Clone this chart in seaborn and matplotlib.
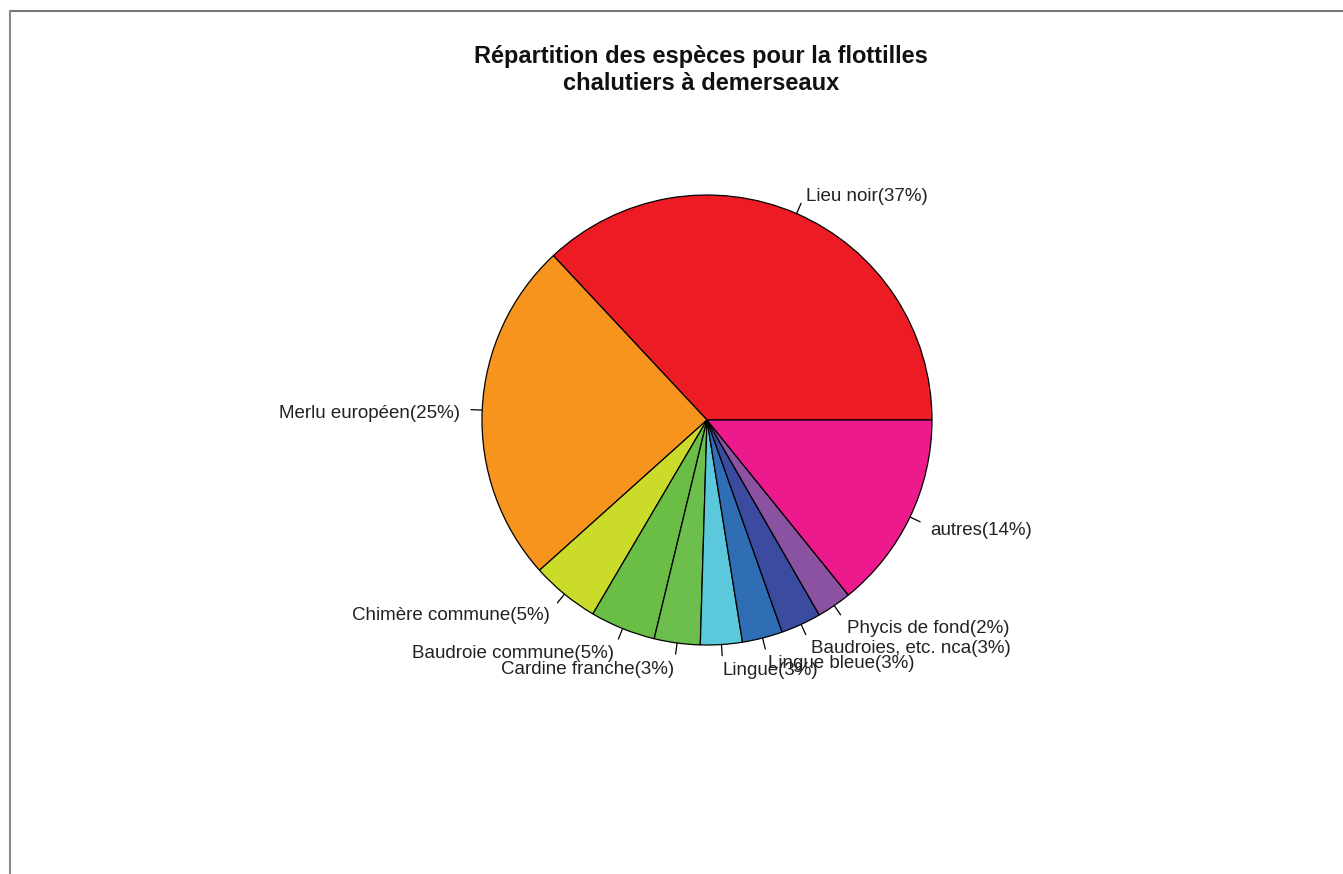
import matplotlib
matplotlib.use("Agg")
import numpy as np
import matplotlib.pyplot as plt
import matplotlib.transforms as mtransforms
import seaborn as sns

sns.set_style("white")
plt.rcParams["font.family"] = ["Liberation Sans", "DejaVu Sans"]

# species share of landings
especes = ["Lieu noir", "Merlu européen", "Chimère commune", "Baudroie commune",
           "Cardine franche", "Lingue", "Lingue bleue", "Baudroies, etc. nca",
           "Phycis de fond", "autres"]
parts = [37.0, 24.7, 4.9, 4.7, 3.3, 3.0, 2.9, 2.9, 2.5, 14.2]
pct_affiche = [37, 25, 5, 5, 3, 3, 3, 3, 2, 14]
couleurs = ["#ED1C24", "#F7941D", "#CBDB2A", "#6ABD45", "#6DBF4D",
            "#5CC8DC", "#2F6DB5", "#3B4BA0", "#8C52A2", "#EC1A8C"]

etiquettes = [f"{n}({p}%)" for n, p in zip(especes, pct_affiche)]

W, H = 1343, 874
fig = plt.figure(figsize=(W / 100, H / 100), dpi=100)

# pie centre at ~ (707, 420) px, radius ~225 px
cx, cy, r = 707, 420, 225
ax = fig.add_axes([(cx - 2 * r) / W, (H - cy - 300) / H, 4 * r / W, 600 / H])

wedges, textes = ax.pie(parts, labels=etiquettes, colors=couleurs, startangle=0,
                        counterclock=True, labeldistance=1.1, radius=1.0,
                        wedgeprops=dict(edgecolor="black", linewidth=0.9),
                        textprops=dict(fontsize=13.5, color="#222222"))

# R centres its labels a bit lower than matplotlib does
for t in textes:
    t.set_transform(mtransforms.offset_copy(ax.transData, fig=fig, x=0, y=-4, units="dots"))

# small tick lines like R's pie()
for w in wedges:
    a = np.deg2rad((w.theta1 + w.theta2) / 2)
    ax.plot([np.cos(a), 1.05 * np.cos(a)], [np.sin(a), 1.05 * np.sin(a)],
            color="black", lw=0.9)

# pie() resets the limits, so set them afterwards
ax.set_xlim(-2, 2)
ax.set_ylim(-600 / 450, 600 / 450)
ax.set_aspect("equal", adjustable="datalim")
ax.axis("off")

fig.text(cx / W - 6 / W, 1 - 45 / H, "Répartition des espèces pour la flottilles\nchalutiers à demerseaux",
         ha="center", va="top", fontsize=17, fontweight="bold", linespacing=1.22,
         color="#111111")

# grey frame lines on the top and left edges
fig.add_artist(plt.Line2D([10 / W, 1], [1 - 11 / H, 1 - 11 / H], color="#777777", lw=1.5))
fig.add_artist(plt.Line2D([10 / W, 10 / W], [0, 1 - 11 / H], color="#888888", lw=1.5))

fig.savefig("out.png", dpi=100)
